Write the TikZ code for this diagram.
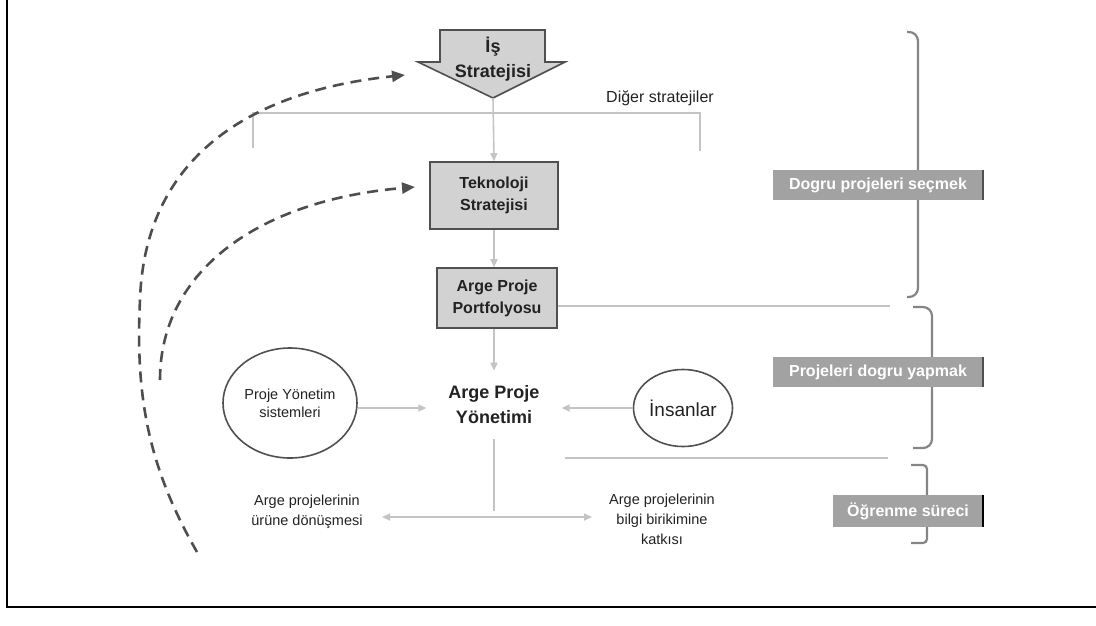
\documentclass[tikz,border=0pt]{standalone}
\usepackage{fontspec}
\setmainfont{Liberation Sans}
\usetikzlibrary{shapes.geometric,arrows.meta,calc}

\definecolor{boxfill}{HTML}{D2D2D2}
\definecolor{boxline}{HTML}{505050}
\definecolor{connline}{HTML}{C4C4C4}
\definecolor{dashline}{HTML}{4E4E4E}
\definecolor{labfill}{HTML}{A2A2A2}
\definecolor{braceline}{HTML}{858585}
\definecolor{txt}{HTML}{222222}

\tikzset{
  shapebox/.style={draw=boxline, line width=1.6pt, fill=boxfill},
  rectbox/.style={shapebox, rectangle, align=center, text=txt,
    font=\fontsize{16}{22}\selectfont\bfseries},
  bigtext/.style={align=center, text=txt, font=\fontsize{18}{25}\selectfont\bfseries},
  oval/.style={ellipse, draw=boxline, line width=1.6pt, align=center, text=txt, inner sep=0pt},
  plaintext/.style={align=center, text=txt, font=\fontsize{14.5}{20.5}\selectfont},
  conn/.style={draw=connline, line width=1.6pt},
  connarrow/.style={conn, -{Triangle[length=8pt,width=7pt]}},
  feedback/.style={draw=dashline, line width=2.6pt, dash pattern=on 11pt off 7pt,
    -{Triangle[length=13pt,width=11pt]}},
  phase/.style={fill=labfill, text=white, font=\fontsize{16}{18}\selectfont\bfseries,
    inner sep=0pt, minimum height=30pt},
  phaseedge/.style={line width=2.2pt},
  bracket/.style={draw=braceline, line width=2.2pt, rounded corners=9pt},
}

\begin{document}
\begin{tikzpicture}[x=1pt,y=-1pt]
  \useasboundingbox (0,0) rectangle (1096,625);

  % page frame (left and bottom edges)
  \draw[black, line width=2pt] (7,0) -- (7,607) -- (1096,607);

  % business strategy: block arrow
  \draw[shapebox] (440,30) -- (545,30) -- (545,62) -- (565,62) -- (493,98)
    -- (418,62) -- (440,62) -- cycle;
  \node[bigtext] (is) at (493,59) {İş\\Stratejisi};
  \coordinate (istip) at (493,98);

  % other strategies bar
  \node[font=\fontsize{16}{18}\selectfont, text=txt] (diger) at (660,98) {Diğer stratejiler};
  \coordinate (d1) at (253,148);
  \coordinate (d2) at (253,113);
  \coordinate (d3) at (700,113);
  \coordinate (d4) at (700,151);
  \draw[conn] (d1) -- (d2) -- (d3) -- (d4);

  % main chain
  \node[rectbox, minimum width=128pt, minimum height=67pt] (tek) at (494,195.5) {Teknoloji\\Stratejisi};
  \node[rectbox, minimum width=120pt, minimum height=60pt] (port) at (497,298) {Arge Proje\\Portfolyosu};
  \node[bigtext, inner xsep=22pt, inner ysep=15pt] (yon) at (494,405) {Arge Proje\\Yönetimi};

  \draw[connarrow] (istip) -- (tek.north);
  \draw[connarrow] (tek.south) -- (tek.south |- port.north);
  \draw[connarrow] (port.south -| yon.north) -- (yon.north);

  % inputs
  \node[oval, minimum width=134pt, minimum height=110pt, font=\fontsize{14.5}{18}\selectfont]
    (pys) at (290,403) {Proje Yönetim\\sistemleri};
  \node[oval, minimum width=99pt, minimum height=77pt, font=\fontsize{19}{22}\selectfont]
    (ins) at (683,408) {İnsanlar};
  \draw[connarrow] (pys.east |- 0,408) -- (yon.west |- 0,408);
  \draw[connarrow] (ins.west) -- (ins.west -| yon.east);

  % outcomes
  \node[plaintext] (out1) at (307,512) {Arge projelerinin\\ürüne dönüşmesi};
  \node[plaintext, font=\fontsize{14.5}{20}\selectfont] (out2) at (662,519) {Arge projelerinin\\bilgi birikimine\\katkısı};
  \coordinate (split) at (494,511);
  \coordinate (la) at (382,517);
  \coordinate (ra) at (592,517);
  \draw[conn] (yon.south) -- (split);
  \draw[conn, {Triangle[length=8pt,width=7pt]}-{Triangle[length=8pt,width=7pt]}] (la) -- (ra);

  % phase separators
  \coordinate (s1) at (890,306);
  \coordinate (s2a) at (565,458);
  \coordinate (s2b) at (888,458);
  \draw[conn, line width=1.2pt] (port.east |- s1) -- (s1);
  \draw[conn, line width=1.2pt] (s2a) -- (s2b);

  % feedback loops
  \coordinate (fa) at (197,552);
  \coordinate (fam) at (140,300);
  \coordinate (fb) at (405,75);
  \draw[feedback] (fa) .. controls (150,470) and (135,400) .. (fam)
    .. controls (145,150) and (260,90) .. (fb);
  \coordinate (ga) at (160,380);
  \coordinate (gb) at (415,187);
  \draw[feedback] (ga) .. controls (160,270) and (260,200) .. (gb);

  % phase brackets
  \draw[bracket] (907,32) -- (918,32) -- (918,297) -- (907,297);
  \draw[bracket] (913,307) -- (932,307) -- (932,448) -- (913,448);
  \draw[bracket, rounded corners=4pt] (911,465) -- (927,465) -- (927,543) -- (911,543);

  % phase labels
  \node[phase, minimum width=210pt] (lab1) at (878,185) {Dogru projeleri seçmek};
  \node[phase, minimum width=210pt] (lab2) at (878,372) {Projeleri dogru yapmak};
  \node[phase, minimum width=150pt, minimum height=32pt] (lab3) at (908,511) {Öğrenme süreci};
  \draw[phaseedge, draw=boxline] (lab1.north east) -- (lab1.south east);
  \draw[phaseedge, draw=boxline] (lab2.north east) -- (lab2.south east);
  \draw[phaseedge, draw=black] (lab3.north east) -- (lab3.south east);
\end{tikzpicture}
\end{document}
